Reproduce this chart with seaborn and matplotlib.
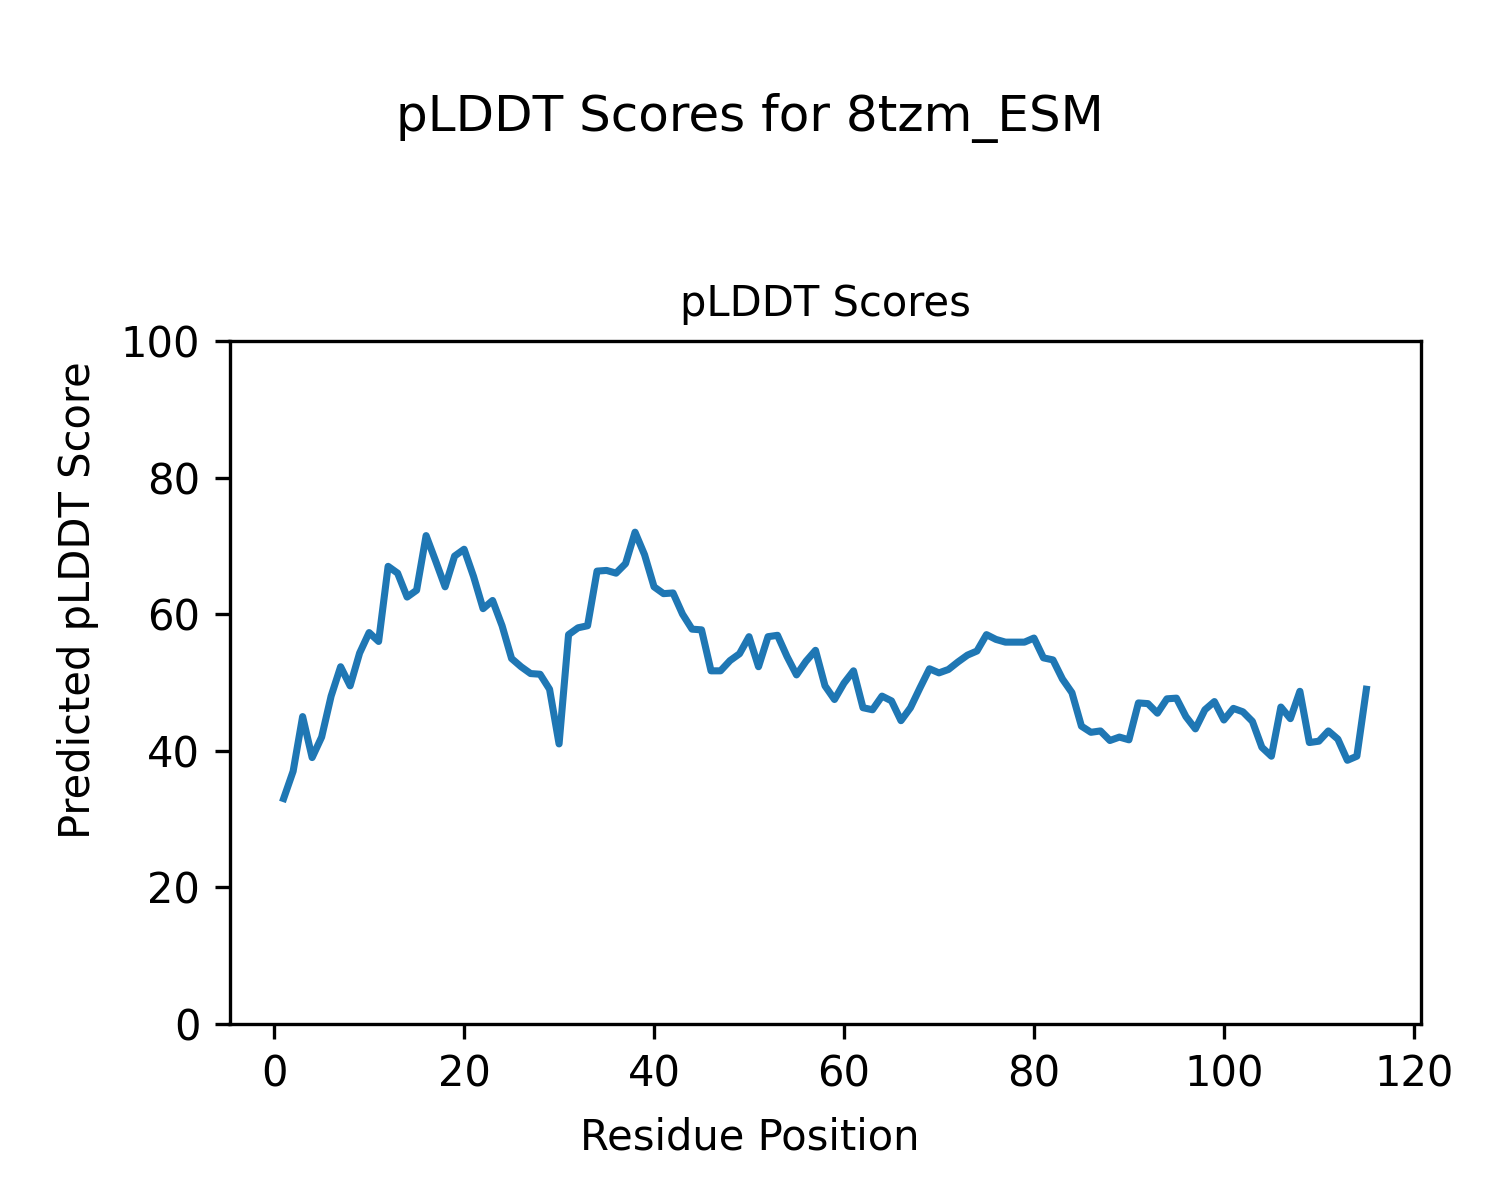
import matplotlib
matplotlib.use("Agg")
import matplotlib.pyplot as plt
import seaborn as sns
import pandas as pd

scores = [
    33.0, 37.0, 45.0, 39.0, 42.0, 48.0, 52.3, 49.5, 54.3, 57.3,
    56.0, 67.0, 66.0, 62.5, 63.5, 71.5, 67.8, 64.0, 68.5, 69.5,
    65.5, 60.8, 62.0, 58.3, 53.5, 52.3, 51.3, 51.2, 49.0, 41.0,
    57.0, 58.0, 58.3, 66.3, 66.4, 66.0, 67.4, 72.0, 68.7, 64.0,
    63.0, 63.1, 60.0, 57.8, 57.7, 51.7, 51.7, 53.2, 54.2, 56.7,
    52.3, 56.7, 56.9, 53.8, 51.1, 53.1, 54.7, 49.5, 47.5, 49.9,
    51.7, 46.3, 46.0, 48.0, 47.3, 44.4, 46.3, 49.2, 52.0, 51.4,
    51.9, 53.0, 54.0, 54.6, 57.0, 56.3, 55.9, 55.9, 55.9, 56.5,
    53.6, 53.3, 50.5, 48.5, 43.6, 42.7, 42.9, 41.5, 42.0, 41.6,
    47.0, 46.9, 45.5, 47.6, 47.7, 45.0, 43.2, 46.0, 47.2, 44.5,
    46.2, 45.7, 44.3, 40.5, 39.2, 46.4, 44.7, 48.7, 41.2, 41.4,
    42.9, 41.7, 38.6, 39.2, 49.0,
]
positions = list(range(1, len(scores) + 1))

df = pd.DataFrame({"Residue Position": positions, "pLDDT": scores})

fig = plt.figure(figsize=(5, 4), dpi=300)
ax = fig.add_axes([0.153, 0.1467, 0.794, 0.5692])
sns.lineplot(data=df, x="Residue Position", y="pLDDT", ax=ax,
             color="#1f77b4", linewidth=1.7)
ax.set_ylim(0, 100)
ax.set_xlabel("")
ax.set_ylabel("")
ax.set_title("pLDDT Scores", fontsize=10)
fig.suptitle("pLDDT Scores for 8tzm_ESM", fontsize=12, y=0.902, va="center")
fig.supxlabel("Residue Position", fontsize=10, x=0.5, y=0.052, va="center")
fig.supylabel("Predicted pLDDT Score", fontsize=10, x=0.052, y=0.5, ha="center")

fig.savefig("out.png", dpi=300)
